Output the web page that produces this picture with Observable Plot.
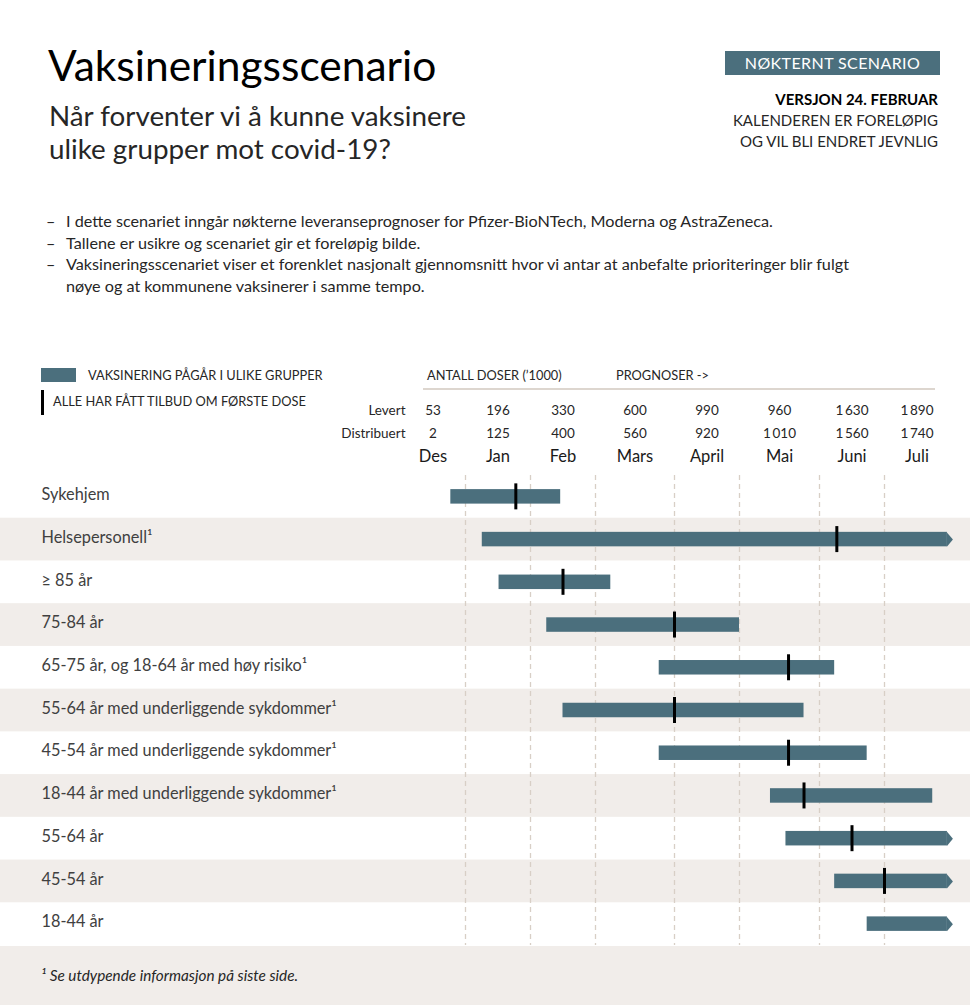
<!DOCTYPE html>
<html><head><meta charset="utf-8">
<script src="https://cdn.jsdelivr.net/npm/d3@7"></script>
<script src="https://cdn.jsdelivr.net/npm/@observablehq/plot@0.6"></script>
<style>
body{margin:0;background:#fff;font-family:Lato,"Open Sans",sans-serif;color:#262626;}
#page{position:relative;width:970px;height:1005px;overflow:hidden;background:#fff;}
.abs{position:absolute;white-space:nowrap;}
#title{left:48px;top:40px;font-size:42.5px;line-height:50px;color:#000;}
#subtitle{left:49px;top:99px;font-size:27.8px;line-height:33px;color:#262626;}
#box{left:725px;top:51px;width:215px;height:24px;background:#4b6f7d;color:#fff;font-size:16px;line-height:24px;text-align:center;letter-spacing:0.4px;}
#right{right:32px;top:89px;font-size:15px;line-height:21px;text-align:right;}
#right b{font-weight:700;color:#000;}
#bullets{left:46px;top:210px;font-size:16.2px;line-height:21.7px;}
#bullets div{position:relative;padding-left:20px;}
#bullets div span{position:absolute;left:0;top:0;}
.leg{font-size:12.8px;line-height:16px;}
#hdrplot{position:absolute;left:0;top:355px;}
#mainplot{position:absolute;left:0;top:475px;}
#foot{position:absolute;left:0;top:946px;width:970px;height:59px;background:#f1edea;}
#foot span{position:absolute;left:41px;top:20px;font-size:15.3px;font-style:italic;color:#262626;}
svg{display:block;}
</style></head>
<body><div id="page">
<div class="abs" id="title">Vaksineringsscenario</div>
<div class="abs" id="subtitle">Når forventer vi å kunne vaksinere<br>ulike grupper mot covid-19?</div>
<div class="abs" id="box">NØKTERNT SCENARIO</div>
<div class="abs" id="right"><b>VERSJON 24. FEBRUAR</b><br>KALENDEREN ER FORELØPIG<br>OG VIL BLI ENDRET JEVNLIG</div>
<div class="abs" id="bullets">
<div><span>–</span>I dette scenariet inngår nøkterne leveranseprognoser for Pfizer-BioNTech, Moderna og AstraZeneca.</div>
<div><span>–</span>Tallene er usikre og scenariet gir et foreløpig bilde.</div>
<div><span>–</span>Vaksineringsscenariet viser et forenklet nasjonalt gjennomsnitt hvor vi antar at anbefalte prioriteringer blir fulgt<br>nøye og at kommunene vaksinerer i samme tempo.</div>
</div>
<div id="hdrplot"></div>
<div id="mainplot"></div>
<div class="abs" style="left:41px;top:368px;width:35px;height:14px;background:#4b6f7d;"></div>
<div class="abs leg" style="left:88px;top:367px;">VAKSINERING PÅGÅR I ULIKE GRUPPER</div>
<div class="abs" style="left:41px;top:390px;width:3px;height:25px;background:#000;"></div>
<div class="abs leg" style="left:53px;top:393px;">ALLE HAR FÅTT TILBUD OM FØRSTE DOSE</div>
<div class="abs leg" style="left:427px;top:367px;">ANTALL DOSER (’1000)</div>
<div class="abs leg" style="left:616px;top:367px;">PROGNOSER -&gt;</div>
<div class="abs" style="left:423px;top:388px;width:512px;height:2px;background:#ddd6cf;"></div>
<div id="foot"><span>¹ Se utdypende informasjon på siste side.</span></div>
</div>
<script>
// ---- data ----
const months = ["Des", "Jan", "Feb", "Mars", "April", "Mai", "Juni", "Juli"];
const monthStarts = ["2020-12-01", "2021-01-01", "2021-02-01", "2021-03-01", "2021-04-01", "2021-05-01", "2021-06-01", "2021-07-01", "2021-08-01"];
const levert = [53, 196, 330, 600, 990, 960, 1630, 1890];
const distribuert = [2, 125, 400, 560, 920, 1010, 1560, 1740];

const groups = [
  "Sykehjem",
  "Helsepersonell¹",
  "≥ 85 år",
  "75-84 år",
  "65-75 år, og 18-64 år med høy risiko¹",
  "55-64 år med underliggende sykdommer¹",
  "45-54 år med underliggende sykdommer¹",
  "18-44 år med underliggende sykdommer¹",
  "55-64 år",
  "45-54 år",
  "18-44 år"
];
const starts = ["2020-12-25", "2021-01-09", "2021-01-17", "2021-02-08", "2021-03-26", "2021-02-15", "2021-03-26", "2021-05-13", "2021-05-19", "2021-06-08", "2021-06-23"];
// null = pågår videre (pil)
const ends = ["2021-02-14", null, "2021-03-07", "2021-05-01", "2021-06-08", "2021-05-26", "2021-06-23", "2021-07-24", null, null, null];
const firstDose = ["2021-01-25", "2021-06-09", "2021-02-15", "2021-04-01", "2021-05-20", "2021-04-01", "2021-05-20", "2021-05-26", "2021-06-16", "2021-07-01", null];
const openEnd = "2021-07-31";

// ---- build ----
const parse = d3.utcParse("%Y-%m-%d");
const edges = monthStarts.map(parse);
const mids = months.map((m, i) => new Date((+edges[i] + +edges[i + 1]) / 2));
const barColor = "#4b6f7d";
const xScale = {type: "utc", domain: edges, range: [400, 465, 530, 595, 674, 739, 819, 884, 949]};
const fmtNb = n => { const s = String(n); return s.length > 3 ? s.slice(0, -3) + "\u2009" + s.slice(-3) : s; };

const header = months.map((m, i) => ({month: m, mid: mids[i], levert: levert[i], distribuert: distribuert[i]}));

const hdr = Plot.plot({
  width: 970, height: 120,
  marginLeft: 0, marginRight: 0, marginTop: 0, marginBottom: 0,
  style: {fontFamily: "Lato, sans-serif", color: "#262626", background: "transparent"},
  x: {...xScale, axis: null},
  y: {type: "point", domain: ["Levert", "Distribuert", "Måned"], range: [54, 101], padding: 0, axis: null},
  marks: [
    Plot.text(["Levert", "Distribuert"], {x: () => edges[0], y: d => d, text: d => d, textAnchor: "end", dx: 5, fontSize: 13.5, fill: "#262626"}),
    Plot.text(header, {x: "mid", y: () => "Levert", text: d => fmtNb(d.levert), fontSize: 13.5, fill: "#262626"}),
    Plot.text(header, {x: "mid", y: () => "Distribuert", text: d => fmtNb(d.distribuert), fontSize: 13.5, fill: "#262626"}),
    Plot.text(header, {x: "mid", y: () => "Måned", text: "month", fontSize: 16.5, fill: "#1a1a1a"})
  ]
});
document.getElementById("hdrplot").append(hdr);

const rows = groups.map((g, i) => ({
  group: g,
  start: parse(starts[i]),
  end: parse(ends[i] ?? openEnd),
  open: ends[i] == null,
  dose: firstDose[i] ? parse(firstDose[i]) : null
}));
const shaded = groups.filter((g, i) => i % 2 === 1);
const arrowHead = {draw(ctx) { ctx.moveTo(-0.5, -7.2); ctx.lineTo(5.5, 0); ctx.lineTo(-0.5, 7.2); ctx.closePath(); }};
const H = 470;
const bandH = H / groups.length;

const main = Plot.plot({
  width: 970, height: H,
  marginLeft: 0, marginRight: 0, marginTop: 0, marginBottom: 0,
  style: {fontFamily: "Lato, sans-serif", background: "transparent"},
  x: {...xScale, axis: null},
  y: {type: "band", domain: groups, padding: 0, round: false, axis: null},
  marks: [
    Plot.cell(shaded, {y: d => d, fill: "#f1edea"}),
    Plot.ruleX(edges.slice(1, 8), {x: d => d, stroke: "#d8cfc6", strokeWidth: 1.3, strokeDasharray: "5,4"}),
    Plot.barX(rows, {x1: "start", x2: "end", y: "group", fill: barColor, insetTop: (bandH - 14.5) / 2, insetBottom: (bandH - 14.5) / 2}),
    Plot.dot(rows.filter(d => d.open), {x: "end", y: "group", symbol: arrowHead, fill: barColor, r: 5}),
    Plot.tickX(rows.filter(d => d.dose), {x: "dose", y: "group", stroke: "#000", strokeWidth: 3, insetTop: (bandH - 26) / 2, insetBottom: (bandH - 26) / 2}),
    Plot.text(rows, {y: "group", text: "group", frameAnchor: "left", dx: 41, dy: -2, textAnchor: "start", fontSize: 16.3, fill: "#404040"})
  ]
});
document.getElementById("mainplot").append(main);
</script>
</body></html>
